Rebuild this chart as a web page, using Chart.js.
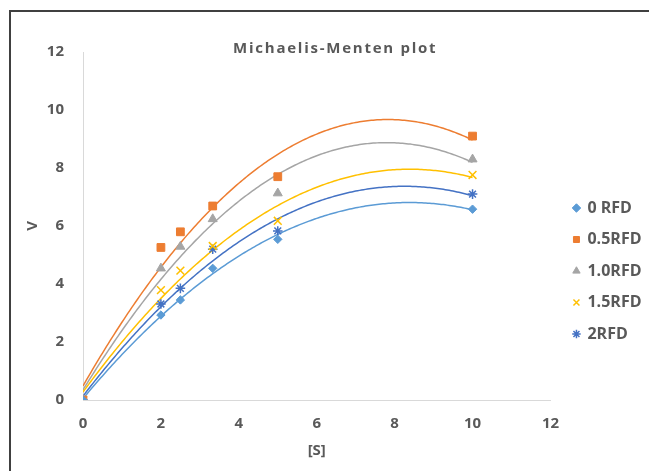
<!DOCTYPE html>
<html><head><meta charset="utf-8">
<script src="https://cdn.jsdelivr.net/npm/chart.js@4"></script>
<style>
html,body{margin:0;padding:0;background:#fff;overflow:hidden}
#wrap{position:relative;width:649px;height:471px;overflow:hidden}
#frame{position:absolute;left:9px;top:10px;width:700px;height:520px;border-top:2px solid #404040;border-left:2px solid #404040}
canvas{position:absolute;left:0;top:0}
</style></head><body>
<div id="wrap"><div id="frame"></div><canvas id="c" width="649" height="471"></canvas></div>
<script>
const chartTitle = 'Michaelis-Menten plot';
const seriesNames = ['0 RFD', '0.5RFD', '1.0RFD', '1.5RFD', '2RFD'];
const substrate = [0, 2, 2.5, 3.33, 5, 10];
const v0RFD  = [0, 2.93, 3.45, 4.54, 5.54, 6.58];
const v05RFD = [0, 5.26, 5.80, 6.69, 7.70, 9.10];
const v10RFD = [0, 4.54, 5.29, 6.24, 7.13, 8.30];
const v15RFD = [0, 3.79, 4.46, 5.31, 6.18, 7.76];
const v20RFD = [0, 3.31, 3.85, 5.20, 5.83, 7.10];
const xTickValues = [0, 2, 4, 6, 8, 10, 12];
const yTickValues = [0, 2, 4, 6, 8, 10, 12];

const seriesValues = [v0RFD, v05RFD, v10RFD, v15RFD, v20RFD];
const colors = ['#5B9BD5', '#ED7D31', '#A5A5A5', '#FFC000', '#4472C4'];
const styles = ['rectRot', 'rect', 'triangle', 'crossRot', 'star'];
const radii = [4.2, 5.5, 5.2, 5.5, 4.8];
const TEXT = '#595959';
const FONT = "'Open Sans', 'Liberation Sans', sans-serif";

// least-squares polynomial (order 2) trendline, as in the original spreadsheet
function quadFit(xs, ys) {
  const S = [0, 0, 0, 0, 0], T = [0, 0, 0];
  for (let i = 0; i < xs.length; i++) {
    let p = 1;
    for (let k = 0; k < 5; k++) { S[k] += p; if (k < 3) T[k] += p * ys[i]; p *= xs[i]; }
  }
  const A = [[S[0], S[1], S[2], T[0]], [S[1], S[2], S[3], T[1]], [S[2], S[3], S[4], T[2]]];
  for (let c = 0; c < 3; c++) {
    let m = c;
    for (let r = c + 1; r < 3; r++) if (Math.abs(A[r][c]) > Math.abs(A[m][c])) m = r;
    [A[c], A[m]] = [A[m], A[c]];
    for (let r = 0; r < 3; r++) {
      if (r === c) continue;
      const f = A[r][c] / A[c][c];
      for (let k = c; k < 4; k++) A[r][k] -= f * A[c][k];
    }
  }
  return [A[0][3] / A[0][0], A[1][3] / A[1][1], A[2][3] / A[2][2]];
}

const trendPlugin = {
  id: 'trend',
  beforeDatasetsDraw(chart) {
    const {ctx, chartArea, scales} = chart;
    const sx = scales.x, sy = scales.y;
    ctx.save();
    ctx.beginPath();
    ctx.rect(chartArea.left, chartArea.top, chartArea.width, chartArea.height);
    ctx.clip();
    chart.data.datasets.forEach(ds => {
      const xs = ds.data.map(p => p.x), ys = ds.data.map(p => p.y);
      const c = quadFit(xs, ys);
      const x0 = Math.min(...xs), x1 = Math.max(...xs);
      const N = 200;
      ctx.beginPath();
      for (let i = 0; i <= N; i++) {
        const xv = x0 + (x1 - x0) * i / N;
        const yv = c[0] + c[1] * xv + c[2] * xv * xv;
        const px = sx.getPixelForValue(xv), py = sy.getPixelForValue(yv);
        if (i) ctx.lineTo(px, py); else ctx.moveTo(px, py);
      }
      ctx.strokeStyle = ds.borderColor;
      ctx.lineWidth = 1.5;
      ctx.stroke();
    });
    ctx.restore();
  }
};

const titleSpacing = {
  id: 'titleSpacing',
  afterLayout(chart) {
    const tb = chart.titleBlock;
    if (tb && !tb._wrapped) {
      const orig = tb.draw.bind(tb);
      tb.draw = function (area) {
        const ctx = chart.ctx;
        const prev = ctx.letterSpacing;
        ctx.letterSpacing = '1.75px';
        orig(area);
        ctx.letterSpacing = prev || '0px';
      };
      tb._wrapped = true;
    }
  }
};

const datasets = seriesNames.map((name, i) => ({
  label: name,
  data: substrate.map((s, j) => ({x: s, y: seriesValues[i][j]})),
  showLine: false,
  backgroundColor: colors[i],
  borderColor: colors[i],
  pointBackgroundColor: colors[i],
  pointBorderColor: colors[i],
  pointStyle: styles[i],
  pointRadius: radii[i],
  pointBorderWidth: (styles[i] === 'crossRot' || styles[i] === 'star') ? 1.5 : 1,
  borderWidth: (styles[i] === 'crossRot' || styles[i] === 'star') ? 1.5 : 1
}));

new Chart(document.getElementById('c'), {
  type: 'scatter',
  data: {datasets},
  plugins: [trendPlugin, titleSpacing],
  options: {
    responsive: false,
    devicePixelRatio: 1,
    animation: false,
    events: [],
    layout: {padding: {left: 19, right: -2.5, top: 0, bottom: 0}},
    plugins: {
      tooltip: {enabled: false},
      title: {
        display: true,
        text: chartTitle,
        color: TEXT,
        font: {family: FONT, size: 15, weight: 'bold'},
        padding: {top: 39.5, bottom: -5.5}
      },
      legend: {
        display: true,
        position: 'right',
        align: 'center',
        title: {display: true, text: '', font: {size: 10}, padding: {top: 59, bottom: 0}},
        labels: {
          usePointStyle: true,
          boxWidth: 6,
          boxHeight: 6,
          padding: 15.5,
          color: TEXT,
          font: {family: FONT, size: 16, weight: 'bold'}
        }
      }
    },
    scales: {
      x: {
        type: 'linear',
        min: 0, max: 12,
        afterFit(s) { s.height = 71; },
        afterBuildTicks(s) { s.ticks = xTickValues.map(v => ({value: v})); },
        grid: {display: false, drawTicks: false},
        border: {display: true, color: '#D9D9D9', width: 1},
        ticks: {padding: 15, color: TEXT, font: {family: FONT, size: 15, weight: 'bold'}},
        title: {display: true, text: '[S]', color: TEXT, font: {family: FONT, size: 15, weight: 'bold'}, padding: {top: 0, bottom: 11}}
      },
      y: {
        type: 'linear',
        min: 0, max: 12,
        afterFit(s) { s.width = 64; },
        afterBuildTicks(s) { s.ticks = yTickValues.map(v => ({value: v})); },
        grid: {display: false, drawTicks: false},
        border: {display: true, color: '#D9D9D9', width: 1},
        ticks: {padding: 19, color: TEXT, font: {family: FONT, size: 15, weight: 'bold'}},
        title: {display: true, text: 'V', color: TEXT, font: {family: FONT, size: 15, weight: 'bold'}, padding: {top: 5, bottom: 0}}
      },
      spacer: {
        type: 'linear',
        position: 'right',
        display: true,
        afterFit(s) { s.width = 7.5; },
        grid: {display: false, drawTicks: false},
        border: {display: false},
        ticks: {display: false}
      }
    }
  }
});
</script>
</body></html>
